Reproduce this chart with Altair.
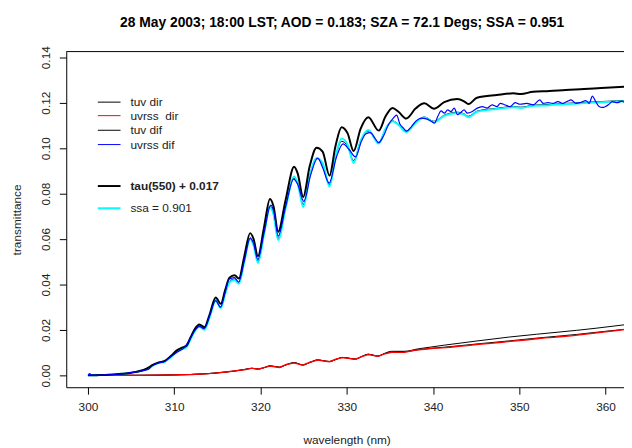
import altair as alt
import pandas as pd

# ---------------- data ----------------
wl_up = [300.0, 301.0, 302.0, 303.0, 304.0, 305.0, 306.0, 306.8, 307.5, 308.2,
         308.9, 309.6, 310.3, 310.9, 311.4, 311.9, 312.4, 312.9, 313.5, 314.1,
         314.8, 315.4, 315.9, 316.4, 317.0, 317.5, 318.1, 318.8, 319.2, 319.7,
         320.4, 321.1, 321.5, 322.05, 322.9, 323.9, 324.3, 324.95, 325.7, 326.5,
         327.2, 328.0, 328.7, 329.4, 330.1, 330.8, 331.6, 332.5, 333.7, 334.5,
         335.3, 336.0, 336.9, 338.0, 339.0, 340.1, 341.3, 342.8, 343.6, 344.1,
         345.1, 347.4, 349.3, 350.2, 351.6, 353.5, 355.4, 357.5, 359.5, 362.5]

tau_dif = [0.0000, 0.0001, 0.0002, 0.0004, 0.0007, 0.0012, 0.0019, 0.0030, 0.0046, 0.0057,
           0.0064, 0.0085, 0.0110, 0.0122, 0.0130, 0.0168, 0.0205, 0.0224, 0.0212, 0.0268,
           0.0343, 0.0315, 0.0375, 0.0430, 0.0441, 0.0426, 0.0520, 0.0626, 0.0600, 0.0524,
           0.0650, 0.0776, 0.0745, 0.0632, 0.0770, 0.0918, 0.0890, 0.0785, 0.0920, 0.1002,
           0.0985, 0.0879, 0.1010, 0.1092, 0.1065, 0.0987, 0.1085, 0.1136, 0.1077, 0.1140,
           0.1177, 0.1160, 0.1130, 0.1175, 0.1197, 0.1173, 0.1202, 0.1216, 0.1206, 0.1194,
           0.1222, 0.1234, 0.1241, 0.1238, 0.1248, 0.1251, 0.1256, 0.1260, 0.1265, 0.1271]

ssa_dif = [0.0000, 0.0001, 0.0002, 0.0004, 0.0007, 0.0012, 0.0018, 0.0028, 0.0043, 0.0054,
           0.0060, 0.0080, 0.0104, 0.0116, 0.0123, 0.0160, 0.0196, 0.0214, 0.0201, 0.0255,
           0.0328, 0.0297, 0.0357, 0.0410, 0.0420, 0.0403, 0.0496, 0.0600, 0.0572, 0.0495,
           0.0618, 0.0740, 0.0710, 0.0596, 0.0733, 0.0875, 0.0846, 0.0741, 0.0875, 0.0955,
           0.0935, 0.0831, 0.0962, 0.1042, 0.1015, 0.0935, 0.1032, 0.1080, 0.1020, 0.1085,
           0.1118, 0.1102, 0.1070, 0.1112, 0.1135, 0.1115, 0.1142, 0.1155, 0.1148, 0.1136,
           0.1160, 0.1172, 0.1180, 0.1177, 0.1186, 0.1189, 0.1194, 0.1198, 0.1202, 0.1207]

tuv_dif = [0.0000, 0.0001, 0.0002, 0.0004, 0.0007, 0.0012, 0.0019, 0.0029, 0.0044, 0.0055,
           0.0062, 0.0082, 0.0106, 0.0118, 0.0125, 0.0163, 0.0199, 0.0217, 0.0205, 0.0259,
           0.0331, 0.0302, 0.0362, 0.0414, 0.0424, 0.0408, 0.0500, 0.0604, 0.0577, 0.0502,
           0.0622, 0.0745, 0.0715, 0.0603, 0.0737, 0.0868, 0.0848, 0.0752, 0.0878, 0.0955,
           0.0930, 0.0840, 0.0962, 0.1030, 0.1008, 0.0945, 0.1032, 0.1074, 0.1025, 0.1085,
           0.1120, 0.1105, 0.1074, 0.1115, 0.1137, 0.1118, 0.1145, 0.1158, 0.1151, 0.1140,
           0.1163, 0.1175, 0.1183, 0.1180, 0.1189, 0.1192, 0.1197, 0.1201, 0.1205, 0.1210]

wl_blue = [300.0, 300.2, 300.4, 301.0, 302.0, 303.0, 304.0, 305.0, 306.0, 306.98,
           307.5, 308.2, 308.89, 309.6, 310.41, 311.18, 311.94, 312.4, 312.89, 313.47,
           314.1, 314.8, 315.37, 315.9, 316.33, 316.98, 317.47, 318.1, 318.81, 319.2,
           319.69, 320.4, 321.2, 321.6, 322.05, 322.9, 323.84, 324.3, 325.03, 325.8,
           326.63, 327.2, 327.96, 328.8, 329.57, 330.25, 331.02, 331.7, 332.2, 332.73,
           333.3, 333.69, 334.26, 334.83, 335.4, 335.78, 336.16, 336.55, 336.93, 337.5,
           338.07, 338.65, 339.22, 339.79, 340.17, 340.55, 340.93, 341.31, 341.7, 342.08,
           342.46, 342.84, 343.22, 343.6, 343.99, 344.56, 345.13, 345.7, 346.27, 346.85,
           347.42, 347.8, 348.37, 348.95, 349.52, 350.09, 350.85, 351.62, 352.38, 352.76,
           353.33, 353.9, 354.48, 355.05, 355.62, 356.0, 356.58, 357.15, 357.72, 358.1,
           358.48, 358.86, 359.25, 359.63, 360.39, 360.77, 361.34, 361.92, 362.15, 362.6]

uvrss_dif = [0.0000, 0.0008, 0.0001, 0.0001, 0.0002, 0.0004, 0.0007, 0.0012, 0.0018, 0.0026,
             0.0043, 0.0055, 0.0061, 0.0082, 0.0104, 0.0122, 0.0169, 0.0198, 0.0216, 0.0206,
             0.0262, 0.0329, 0.0300, 0.0365, 0.0423, 0.0430, 0.0411, 0.0500, 0.0604, 0.0580,
             0.0510, 0.0625, 0.0749, 0.0712, 0.0613, 0.0740, 0.0864, 0.0842, 0.0765, 0.0880,
             0.0956, 0.0915, 0.0846, 0.0960, 0.1019, 0.0995, 0.0961, 0.1030, 0.1062, 0.1068,
             0.1042, 0.1024, 0.1053, 0.1103, 0.1132, 0.1145, 0.1106, 0.1089, 0.1075, 0.1095,
             0.1121, 0.1132, 0.1129, 0.1118, 0.1110, 0.1139, 0.1164, 0.1154, 0.1168, 0.1161,
             0.1176, 0.1147, 0.1157, 0.1168, 0.1154, 0.1161, 0.1176, 0.1183, 0.1176, 0.1190,
             0.1183, 0.1197, 0.1190, 0.1183, 0.1200, 0.1193, 0.1197, 0.1190, 0.1212, 0.1197,
             0.1200, 0.1197, 0.1205, 0.1197, 0.1207, 0.1212, 0.1197, 0.1202, 0.1209, 0.1197,
             0.1229, 0.1205, 0.1183, 0.1179, 0.1193, 0.1205, 0.1200, 0.1207, 0.1202, 0.1204]

wl_low = [300.0, 304.0, 308.0, 310.0, 312.0, 314.0, 315.0, 316.0, 317.0, 318.3,
          319.0, 319.7, 320.5, 321.1, 322.2, 323.0, 323.9, 324.9, 325.8, 326.6,
          328.0, 328.8, 329.5, 331.0, 331.8, 332.5, 333.6, 334.4, 335.2, 336.7,
          338.3, 340.0, 341.3, 345.0, 348.9, 352.0, 356.6, 359.0, 362.5]

tuv_dir = [0.0000, 0.0000, 0.0001, 0.0002, 0.0004, 0.0008, 0.0011, 0.0015, 0.0019, 0.0027,
           0.0031, 0.0028, 0.0035, 0.0042, 0.0036, 0.0047, 0.0056, 0.0046, 0.0058, 0.0068,
           0.0061, 0.0071, 0.0079, 0.0072, 0.0084, 0.0093, 0.0085, 0.0097, 0.0106, 0.0106,
           0.0117, 0.0126, 0.0133, 0.0151, 0.0169, 0.0181, 0.0198, 0.0208, 0.0224]

tau_dir = [0.0000, 0.0000, 0.0001, 0.0002, 0.0004, 0.0008, 0.0011, 0.0015, 0.0019, 0.0027,
           0.0031, 0.0028, 0.0035, 0.0042, 0.0036, 0.0047, 0.0056, 0.0046, 0.0058, 0.0068,
           0.0061, 0.0071, 0.0079, 0.0072, 0.0084, 0.0093, 0.0085, 0.0096, 0.0104, 0.0104,
           0.0113, 0.0120, 0.0124, 0.0138, 0.0152, 0.0164, 0.0180, 0.0190, 0.0204]

wl_red = [300.0, 302.0, 304.0, 306.0, 308.0, 310.0, 312.0, 314.0, 315.0, 316.0,
          317.0, 318.3, 319.0, 319.7, 320.5, 321.1, 322.2, 323.0, 323.9, 324.9,
          325.8, 326.6, 328.0, 328.8, 329.5, 331.0, 331.8, 332.5, 333.6, 334.4,
          335.2, 336.0, 336.7, 337.5, 338.3, 339.0, 340.0, 341.0, 342.0, 343.0,
          344.0, 345.0, 346.0, 347.0, 348.0, 349.0, 350.0, 351.0, 352.0, 353.0,
          354.0, 355.0, 356.0, 357.0, 358.0, 359.0, 360.0, 361.0, 362.0, 363.0]

uvrss_dir = [0.0000, 0.0000, 0.0001, 0.0000, 0.0001, 0.0002, 0.0004, 0.0008, 0.0011, 0.0015,
             0.0020, 0.0026, 0.0032, 0.0027, 0.0035, 0.0041, 0.0035, 0.0048, 0.0055, 0.0045,
             0.0059, 0.0067, 0.0060, 0.0072, 0.0078, 0.0071, 0.0084, 0.0092, 0.0084, 0.0095,
             0.0102, 0.0101, 0.0102, 0.0108, 0.0112, 0.0115, 0.0119, 0.0121, 0.0124, 0.0128,
             0.0131, 0.0136, 0.0139, 0.0142, 0.0146, 0.0150, 0.0153, 0.0157, 0.0161, 0.0165,
             0.0167, 0.0171, 0.0174, 0.0178, 0.0183, 0.0187, 0.0192, 0.0196, 0.0201, 0.0204]

x_ticks = [300, 310, 320, 330, 340, 350, 360]
y_ticks = [0.0, 0.02, 0.04, 0.06, 0.08, 0.10, 0.12, 0.14]

legend_labels = ["tuv dir", "uvrss\u00a0 dir", "tuv dif", "uvrss dif",
                 "tau(550) + 0.017", "ssa = 0.901"]

title_text = "28 May 2003; 18:00 LST; AOD = 0.183; SZA = 72.1 Degs; SSA = 0.951"

# ---------------- styling ----------------
FONT = "Liberation Sans"
TXT = "#222222"
W, H = 565, 340

xscale = alt.Scale(domain=[297.48, 362.14], nice=False, zero=False)
yscale = alt.Scale(domain=[-0.00521, 0.14248], nice=False, zero=False)

xaxis = alt.Axis(values=x_ticks, format="d", grid=False,
                 tickSize=7, tickColor="black", tickWidth=1,
                 domainColor="black", domainWidth=1,
                 labelFont=FONT, labelFontSize=12, labelColor=TXT,
                 labelPadding=8, labelFlush=False, labelOverlap=False,
                 title="wavelength (nm)", titleFont=FONT, titleFontSize=12,
                 titleFontWeight="normal", titleColor=TXT,
                 titleX=284, titleY=53.5, titleBaseline="middle", titleAlign="center")

yaxis = alt.Axis(values=y_ticks, format=".2f", grid=False,
                 tickSize=7, tickColor="black", tickWidth=1,
                 domainColor="black", domainWidth=1,
                 labelFont=FONT, labelFontSize=12, labelColor=TXT,
                 labelAngle=270, labelAlign="center", labelBaseline="alphabetic",
                 labelPadding=10, labelFlush=False, labelOverlap=False,
                 title="transmittance", titleFont=FONT, titleFontSize=12,
                 titleFontWeight="normal", titleColor=TXT, titleAngle=270,
                 titleX=-50, titleY=170, titleBaseline="middle", titleAlign="center")


def line(wl, vals, color, width, interp="monotone"):
    assert len(wl) == len(vals)
    df = pd.DataFrame({"wl": wl, "t": vals})
    return alt.Chart(df).mark_line(color=color, strokeWidth=width,
                                   interpolate=interp, clip=True).encode(
        x=alt.X("wl:Q", scale=xscale, axis=xaxis),
        y=alt.Y("t:Q", scale=yscale, axis=yaxis),
    )


layers = [
    line(wl_low, tuv_dir, "black", 1),
    line(wl_low, tau_dir, "black", 1),
    line(wl_red, uvrss_dir, "red", 1.4, "linear"),
    line(wl_up, tuv_dif, "black", 1),
    line(wl_up, ssa_dif, "cyan", 2),
    line(wl_up, tau_dif, "black", 2),
    line(wl_blue, uvrss_dif, "blue", 1.2),
]

one = pd.DataFrame({"k": [0]})

# top border of the box
layers.append(alt.Chart(one).mark_rule(color="black", strokeWidth=1).encode(
    x=alt.value(0), x2=alt.value(W), y=alt.value(0)))

# legend (R style)
leg_colors = ["black", "red", "black", "blue", "black", "cyan"]
leg_widths = [1, 1, 1, 1, 2, 2]
leg_weights = ["normal", "normal", "normal", "normal", "bold", "normal"]
leg_y = [51.2, 64.9, 79.7, 94.2, 136.2, 158.7]
for lab, col, wd, fw, yy in zip(legend_labels, leg_colors, leg_widths, leg_weights, leg_y):
    layers.append(alt.Chart(one).mark_rule(color=col, strokeWidth=wd).encode(
        x=alt.value(32), x2=alt.value(55), y=alt.value(yy)))
    layers.append(alt.Chart(one).mark_text(align="left", baseline="middle", font=FONT,
                                           fontSize=12, fontWeight=fw, color=TXT).encode(
        x=alt.value(65), y=alt.value(yy), text=alt.value(lab)))

chart = alt.layer(*layers).properties(
    width=W, height=H,
    title=alt.TitleParams(text=title_text, font=FONT, fontSize=14, fontWeight="bold",
                          color="black", anchor="middle", frame="group",
                          baseline="alphabetic", offset=5, dx=-3),
    padding={"left": 59, "top": 41.3, "right": 0, "bottom": 58},
    autosize=alt.AutoSizeParams(type="none"),
).configure_view(strokeWidth=0)

chart.save("out.html", embed_options={"renderer": "svg", "actions": False})
